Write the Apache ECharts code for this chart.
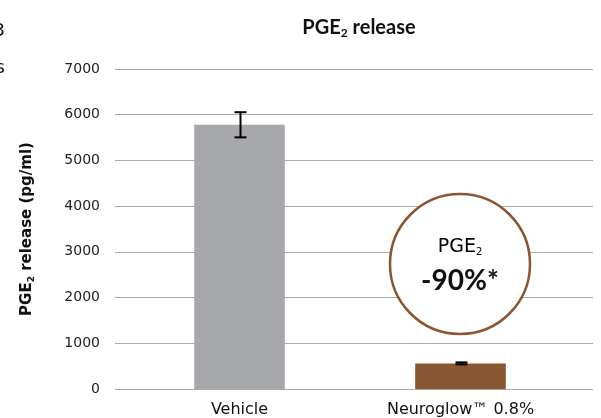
<!DOCTYPE html>
<html>
<head>
<meta charset="utf-8">
<script src="https://cdn.jsdelivr.net/npm/echarts@6/dist/echarts.min.js"></script>
<style>
  html, body { margin: 0; padding: 0; background: #fff; }
  #main { width: 601px; height: 418px; }
</style>
</head>
<body>
<div id="main"></div>
<script>
var categories = ['Vehicle', 'Neuroglow™ 0.8%'];
var values = [5780, 560];
var errors = [275, 22];
var barColors = ['#a7a8ac', '#8a5631'];
var yTicks = [0, 1000, 2000, 3000, 4000, 5000, 6000, 7000];

var FONT = 'DejaVu Sans';
var HEAD = 'Lato';

var chart = echarts.init(document.getElementById('main'), null, { renderer: 'canvas' });

var option = {
  animation: false,
  backgroundColor: '#fff',
  textStyle: { fontFamily: FONT },
  title: {
    text: '{t|PGE}{s|2}{t| release}',
    left: 354,
    textAlign: 'center',
    top: 11,
    textStyle: {
      rich: {
        t: { fontSize: 20, fontWeight: 'bold', color: '#111', fontFamily: HEAD },
        s: { fontSize: 12, fontWeight: 'bold', color: '#111', fontFamily: HEAD, padding: [11, 0, 0, 0] }
      }
    }
  },
  grid: [
    { left: 115, right: 8, top: 69, bottom: 29 },
    { left: 129, right: 30, top: 69, bottom: 29 }
  ],
  xAxis: [
    { gridIndex: 0, type: 'value', min: 0, max: 1, show: false },
    {
      gridIndex: 1,
      type: 'category',
      data: categories,
      axisLine: { show: false },
      axisTick: { show: false },
      axisLabel: { color: '#111', fontSize: 16, margin: 13, interval: 0 }
    }
  ],
  yAxis: [
    {
      gridIndex: 0,
      type: 'value',
      min: 0,
      max: yTicks[yTicks.length - 1],
      interval: 1000,
      axisLine: { show: false },
      axisTick: { show: false },
      axisLabel: { color: '#222', fontSize: 14, margin: 15, formatter: function (v) { return String(v); } },
      splitLine: { lineStyle: { color: '#a9a9a9', width: 1 } },
      name: '{t|PGE}{s|2}{t| release (pg/ml)}',
      nameLocation: 'middle',
      nameGap: 79,
      nameTextStyle: {
        rich: {
          t: { fontSize: 15, fontWeight: 'bold', color: '#111', fontFamily: FONT },
          s: { fontSize: 9, fontWeight: 'bold', color: '#111', fontFamily: FONT, padding: [8, 0, 0, 0] }
        }
      }
    },
    { gridIndex: 1, type: 'value', min: 0, max: 7000, show: false }
  ],
  series: [
    {
      type: 'bar',
      xAxisIndex: 1,
      yAxisIndex: 1,
      barWidth: '41%',
      data: values.map(function (v, i) {
        return { value: v, itemStyle: { color: barColors[i] } };
      }),
      z: 2
    },
    {
      type: 'custom',
      xAxisIndex: 1,
      yAxisIndex: 1,
      z: 3,
      data: values.map(function (v, i) { return [i, v - errors[i], v + errors[i]]; }),
      renderItem: function (params, api) {
        var lo = api.coord([api.value(0), api.value(1)]);
        var hi = api.coord([api.value(0), api.value(2)]);
        var x = Math.round(lo[0]) + 0.5;
        var hw = 6;
        var st = { stroke: '#000', lineWidth: 2 };
        return {
          type: 'group',
          children: [
            { type: 'line', shape: { x1: x, y1: lo[1], x2: x, y2: hi[1] }, style: st },
            { type: 'line', shape: { x1: x - hw, y1: lo[1], x2: x + hw, y2: lo[1] }, style: st },
            { type: 'line', shape: { x1: x - hw, y1: hi[1], x2: x + hw, y2: hi[1] }, style: st }
          ]
        };
      }
    }
  ],
  graphic: [
    {
      type: 'circle',
      shape: { cx: 460, cy: 264, r: 70 },
      style: { fill: '#fff', stroke: '#8a5631', lineWidth: 2.5 },
      z: 10
    },
    {
      type: 'text',
      x: 460, y: 247,
      z: 11,
      style: {
        text: '{t|PGE}{s|2}',
        align: 'center',
        verticalAlign: 'middle',
        rich: {
          t: { fontSize: 19, color: '#111', fontFamily: FONT },
          s: { fontSize: 10, color: '#111', fontFamily: FONT, padding: [10, 0, 0, 0] }
        }
      }
    },
    {
      type: 'text',
      x: 460, y: 281,
      z: 11,
      style: {
        text: '-90%*',
        align: 'center',
        verticalAlign: 'middle',
        fontSize: 28,
        fontWeight: 'bold',
        fill: '#111',
        fontFamily: HEAD
      }
    },
    {
      type: 'text', x: 5, y: 31, z: 11,
      style: { text: '3', align: 'right', verticalAlign: 'middle', fontSize: 18, fill: '#111', fontFamily: FONT }
    },
    {
      type: 'text', x: 5, y: 68, z: 11,
      style: { text: 's', align: 'right', verticalAlign: 'middle', fontSize: 18, fill: '#111', fontFamily: FONT }
    }
  ]
};

chart.setOption(option);
</script>
</body>
</html>
